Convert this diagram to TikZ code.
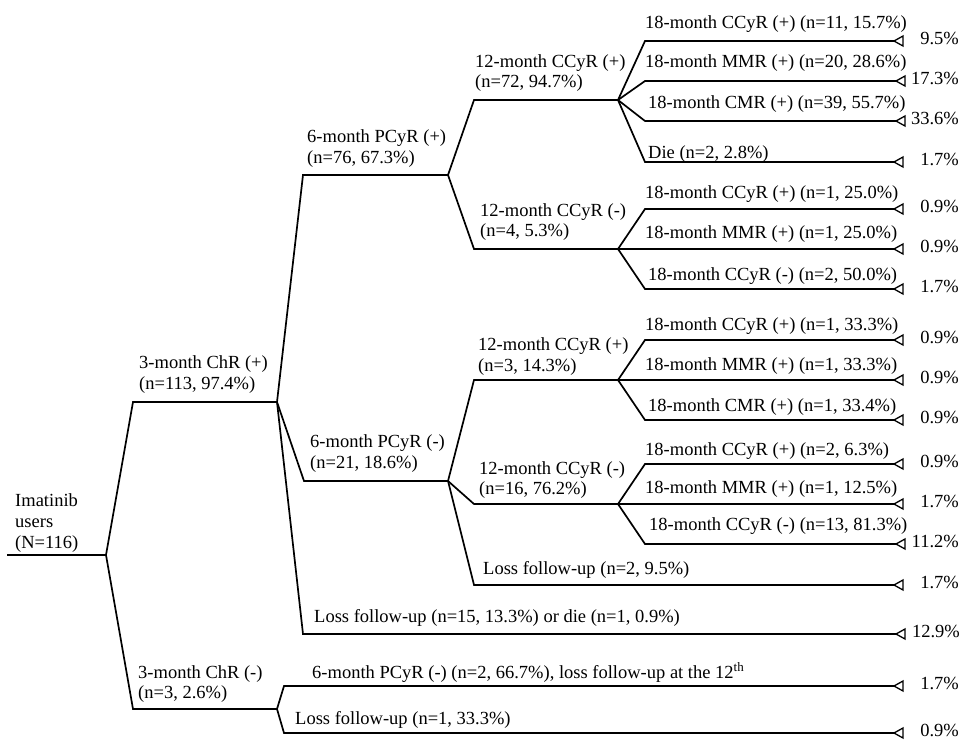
\documentclass[tikz,border=0pt]{standalone}
\usepackage{fontspec}
\setmainfont{Liberation Serif}
\begin{document}
\begin{tikzpicture}[x=1pt,y=-1pt,
  br/.style={line width=1.7pt, line join=miter, line cap=butt},
  tri/.style={line width=1.3pt, line join=miter},
  lbl/.style={anchor=base west, inner sep=0pt, font=\fontsize{18.5}{21}\selectfont},
  pct/.style={anchor=base east, inner sep=0pt, font=\fontsize{18.5}{21}\selectfont}]
\useasboundingbox[fill=white] (0,0) rectangle (966,739);
% coordinates of the tree
\coordinate (R0) at (7,555);   \coordinate (R) at (106,555);
\coordinate (A1) at (133,402); \coordinate (A1j) at (277,402);
\coordinate (A2) at (133,709); \coordinate (A2j) at (277,709);
\coordinate (B1) at (303,175); \coordinate (B1j) at (448,175);
\coordinate (B2) at (304,481); \coordinate (B2j) at (448,481);
\coordinate (B3) at (303,634); \coordinate (B3e) at (896,634);
\coordinate (C1) at (284,686); \coordinate (C1e) at (894,686);
\coordinate (C2) at (284,733); \coordinate (C2e) at (894,733);
\coordinate (D1) at (474,100); \coordinate (D1j) at (618,100);
\coordinate (D2) at (474,249); \coordinate (D2j) at (618,249);
\coordinate (D3) at (474,380); \coordinate (D3j) at (618,380);
\coordinate (D4) at (474,504); \coordinate (D4j) at (618,504);
\coordinate (D5) at (474,585); \coordinate (D5e) at (894,585);
% main branches
\draw[br] (R0) -- (R);
\draw[br] (R) -- (A1) -- (A1j);
\draw[br] (R) -- (A2) -- (A2j);
\draw[br] (A1j) -- (B1) -- (B1j);
\draw[br] (A1j) -- (B2) -- (B2j);
\draw[br] (A1j) -- (B3) -- (B3e);
\draw[br] (A2j) -- (C1) -- (C1e);
\draw[br] (A2j) -- (C2) -- (C2e);
\draw[br] (B1j) -- (D1) -- (D1j);
\draw[br] (B1j) -- (D2) -- (D2j);
\draw[br] (B2j) -- (D3) -- (D3j);
\draw[br] (B2j) -- (D4) -- (D4j);
\draw[br] (B2j) -- (D5) -- (D5e);
% 18-month branches
\foreach \n/\y/\j/\ex/\pc in {1/41/D1j/894/9.5, 2/81/D1j/896/17.3, 3/121/D1j/896/33.6, 4/162/D1j/894/1.7,
  5/209/D2j/894/0.9, 6/249/D2j/894/0.9, 7/289/D2j/894/1.7,
  8/340/D3j/894/0.9, 9/380/D3j/894/0.9, 10/420/D3j/894/0.9,
  11/464/D4j/894/0.9, 12/504/D4j/894/1.7, 13/544/D4j/896/11.2}{
  \coordinate (E\n) at (645,\y);
  \coordinate (E\n e) at (\ex,\y);
  \draw[br] (\j) -- (E\n) -- (E\n e);
  \draw[tri] (E\n e) -- ++(9,-5) -- ++(0,10) -- cycle;
  \node[pct] (P\n) at (959,\y+3) {\pc\%};
}
% triangles of the other ends
\foreach \e in {B3e, C1e, C2e, D5e}{
  \draw[tri] (\e) -- ++(9,-5) -- ++(0,10) -- cycle;
}
\node[pct] (PB3) at (960,637) {12.9\%};
\node[pct] (PC1) at (959,689) {1.7\%};
\node[pct] (PC2) at (959,736) {0.9\%};
\node[pct] (PD5) at (959,588) {1.7\%};
% labels
\node[lbl] (t0a) at (15,506) {Imatinib};
\node[lbl] (t0b) at (15,527) {users};
\node[lbl] (t0c) at (15,548) {(N=116)};
\node[lbl] (ta1a) at (139,368) {3-month ChR (+)};
\node[lbl] (ta1b) at (139,389) {(n=113, 97.4\%)};
\node[lbl] (ta2a) at (138,678) {3-month ChR (-)};
\node[lbl] (ta2b) at (138,698) {(n=3, 2.6\%)};
\node[lbl] (tb1a) at (307,142) {6-month PCyR (+)};
\node[lbl] (tb1b) at (307,163) {(n=76, 67.3\%)};
\node[lbl] (tb2a) at (310,447) {6-month PCyR (-)};
\node[lbl] (tb2b) at (310,468) {(n=21, 18.6\%)};
\node[lbl] (tb3) at (314,622) {Loss follow-up (n=15, 13.3\%) or die (n=1, 0.9\%)};
\node[lbl] (tc1) at (312,678) {6-month PCyR (-) (n=2, 66.7\%), loss follow-up at the 12\textsuperscript{th}};
\node[lbl] (tc2) at (295,724) {Loss follow-up (n=1, 33.3\%)};
\node[lbl] (td1a) at (475,67) {12-month CCyR (+)};
\node[lbl] (td1b) at (475,87) {(n=72, 94.7\%)};
\node[lbl] (td2a) at (480,216) {12-month CCyR (-)};
\node[lbl] (td2b) at (480,236) {(n=4, 5.3\%)};
\node[lbl] (td3a) at (478,350) {12-month CCyR (+)};
\node[lbl] (td3b) at (478,371) {(n=3, 14.3\%)};
\node[lbl] (td4a) at (479,474) {12-month CCyR (-)};
\node[lbl] (td4b) at (479,494) {(n=16, 76.2\%)};
\node[lbl] (td5) at (483,574) {Loss follow-up (n=2, 9.5\%)};
\node[lbl] (te1) at (645,28) {18-month CCyR (+) (n=11, 15.7\%)};
\node[lbl] (te2) at (645,67) {18-month MMR (+) (n=20, 28.6\%)};
\node[lbl] (te3) at (648,108) {18-month CMR (+) (n=39, 55.7\%)};
\node[lbl] (te4) at (648,158) {Die (n=2, 2.8\%)};
\node[lbl] (te5) at (645,198) {18-month CCyR (+) (n=1, 25.0\%)};
\node[lbl] (te6) at (645,238) {18-month MMR (+) (n=1, 25.0\%)};
\node[lbl] (te7) at (648,280) {18-month CCyR (-) (n=2, 50.0\%)};
\node[lbl] (te8) at (645,330) {18-month CCyR (+) (n=1, 33.3\%)};
\node[lbl] (te9) at (645,370) {18-month MMR (+) (n=1, 33.3\%)};
\node[lbl] (te10) at (648,411) {18-month CMR (+) (n=1, 33.4\%)};
\node[lbl] (te11) at (645,455) {18-month CCyR (+) (n=2, 6.3\%)};
\node[lbl] (te12) at (645,493) {18-month MMR (+) (n=1, 12.5\%)};
\node[lbl] (te13) at (649,530) {18-month CCyR (-) (n=13, 81.3\%)};
\end{tikzpicture}
\end{document}
